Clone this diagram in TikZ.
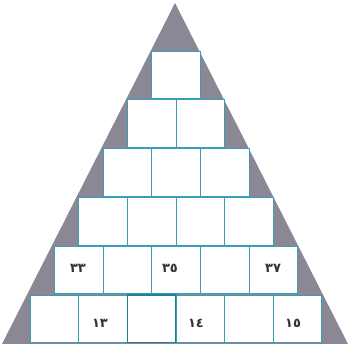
\documentclass[tikz,border=0pt]{standalone}
\usepackage{fontspec}
\newfontfamily\arabicfont[Script=Arabic]{DejaVu Sans}
\definecolor{tri}{HTML}{8C8794}
\definecolor{boxline}{HTML}{3A9DB6}
\definecolor{boxdark}{HTML}{1F7F99}
\begin{document}
\begin{tikzpicture}[x=1pt,y=-1pt,
  cell/.style={draw=boxline,fill=white,line width=0.8pt},
  cellbold/.style={draw=boxdark,fill=white,line width=1.4pt},
  num/.style={font=\arabicfont\bfseries\fontsize{13}{15}\selectfont,text=black!80}]
\useasboundingbox (0,0) rectangle (350,343);
\fill[white] (0,0) rectangle (350,343);
\begin{scope}
\clip (0,0) rectangle (350,343);
\fill[tri] (175,3) -- (349,346) -- (1,346) -- cycle;
\def\s{48.6}
\foreach \r in {1,...,6}{
  \foreach \i in {1,...,\r}{
    \pgfmathsetmacro{\xl}{176-\r*\s/2+(\i-1)*\s}
    \pgfmathsetmacro{\yt}{51+(\r-1)*48.8}
    \ifnum\r=6 \ifnum\i=3
      \draw[cellbold] (\xl,\yt) rectangle ++(\s,47.5);
    \else
      \draw[cell] (\xl,\yt) rectangle ++(\s,47.5);
    \fi\else
      \draw[cell] (\xl,\yt) rectangle ++(\s,47.5);
    \fi
  }
}
\end{scope}
\node[num] (n33) at (78,268.5) {٣٣};
\node[num] (n35) at (170,268.5) {٣٥};
\node[num] (n37) at (273,268.5) {٣٧};
\node[num] (n13) at (100,323) {١٣};
\node[num] (n14) at (196,323) {١٤};
\node[num] (n15) at (293,323) {١٥};
\end{tikzpicture}
\end{document}
